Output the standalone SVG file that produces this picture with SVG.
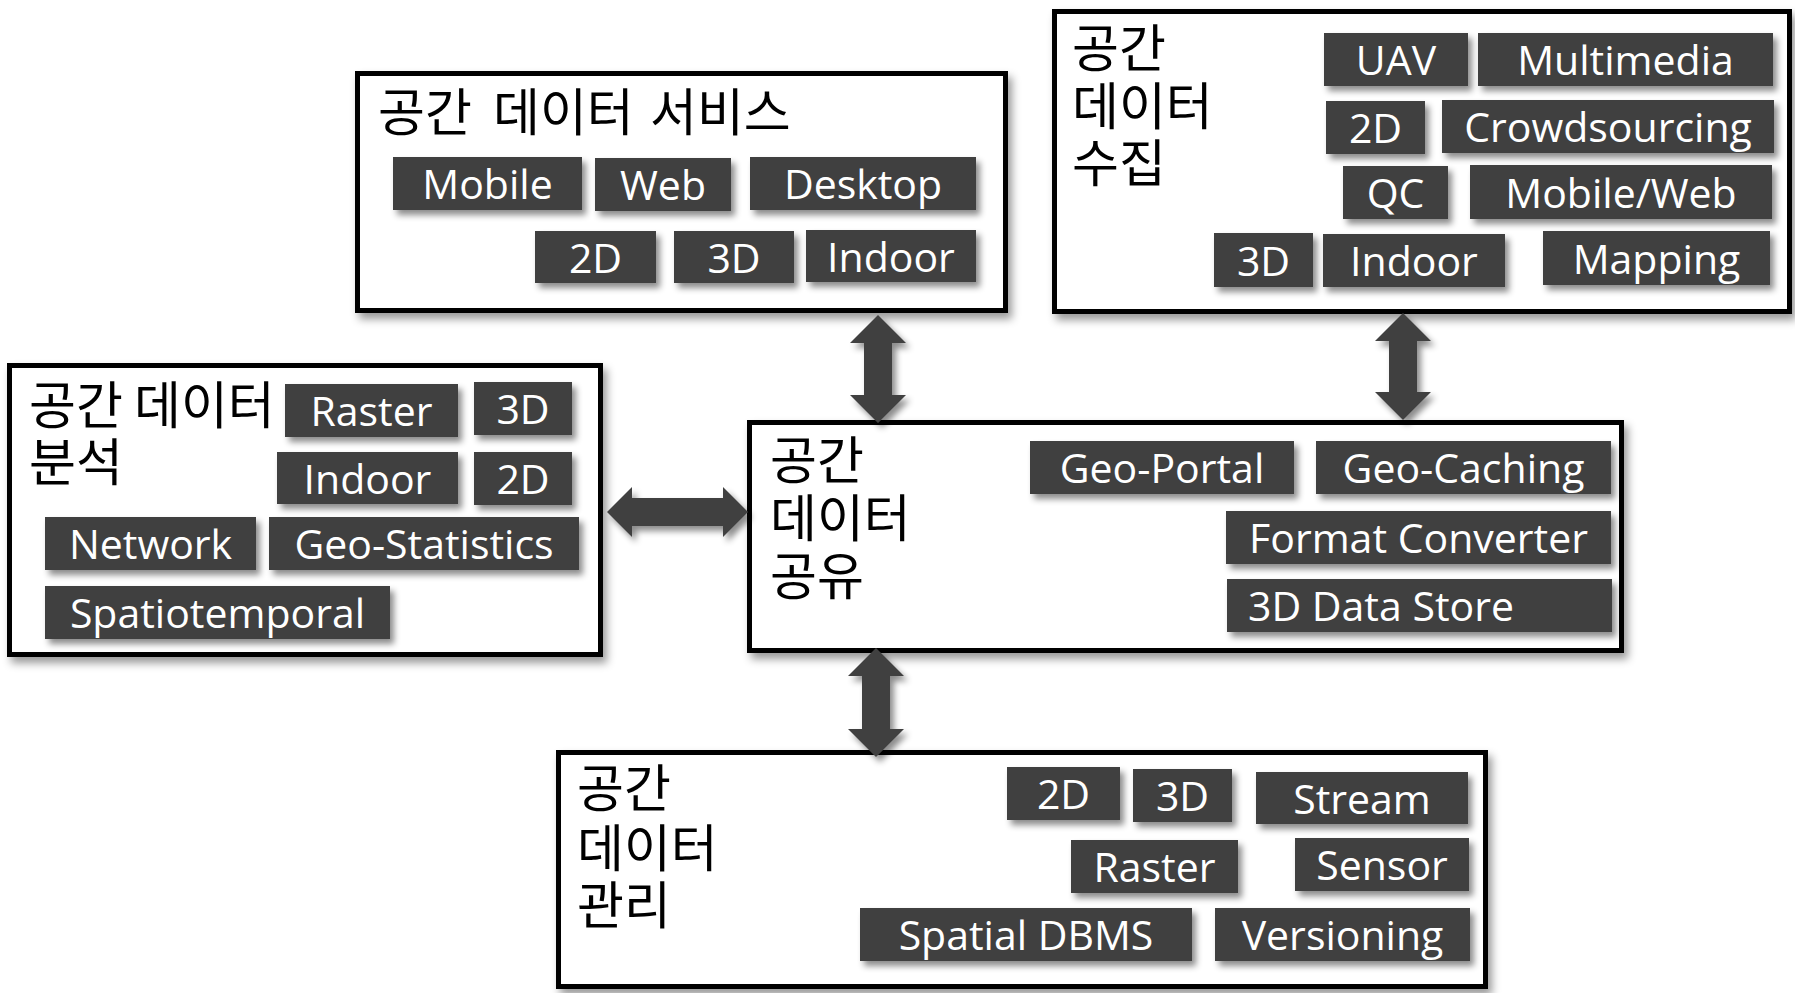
<svg xmlns="http://www.w3.org/2000/svg" width="1795" height="993" viewBox="0 0 1795 993">
<defs>
<filter id="sh" x="-10%" y="-10%" width="130%" height="140%">
<feDropShadow dx="4" dy="5" stdDeviation="3" flood-color="#000" flood-opacity="0.45"/>
</filter>
<filter id="shb" x="-5%" y="-5%" width="115%" height="120%">
<feDropShadow dx="4" dy="6" stdDeviation="4" flood-color="#000" flood-opacity="0.4"/>
</filter>
</defs>
<style>
.box{fill:#fff;stroke:#000;stroke-width:5;filter:url(#shb)}
.title{font-family:"Noto Sans CJK KR","Open Sans",sans-serif;font-size:51px;fill:#000}
.tag rect{fill:#404040;filter:url(#sh)}
.tag text{font-family:"Open Sans","Noto Sans CJK KR",sans-serif;font-size:41px;fill:#fff;text-anchor:middle}
.arrow{fill:#404040;filter:url(#sh)}
</style>

<g id="node-service">
<rect class="box" x="357.5" y="73.5" width="648" height="237"/>
<text class="title" x="378" y="131">공간</text>
<text class="title" x="493" y="131">데이터</text>
<text class="title" x="650" y="131">서비스</text>
<g class="tag"><rect x="393" y="157" width="189" height="53"/><text x="487.5" y="199">Mobile</text></g>
<g class="tag"><rect x="595" y="158" width="136" height="53"/><text x="663" y="200">Web</text></g>
<g class="tag"><rect x="750" y="157" width="226" height="53"/><text x="863" y="199">Desktop</text></g>
<g class="tag"><rect x="535" y="231" width="121" height="52"/><text x="595.5" y="273">2D</text></g>
<g class="tag"><rect x="674" y="231" width="120" height="52"/><text x="734" y="273">3D</text></g>
<g class="tag"><rect x="806" y="230" width="170" height="52"/><text x="891" y="272">Indoor</text></g>
</g>

<g id="node-collection">
<rect class="box" x="1054.5" y="11.5" width="735" height="300"/>
<text class="title" x="1072" y="67">공간</text>
<text class="title" x="1072" y="125">데이터</text>
<text class="title" x="1072" y="182">수집</text>
<g class="tag"><rect x="1324" y="33" width="144" height="53"/><text x="1396" y="75">UAV</text></g>
<g class="tag"><rect x="1478" y="33" width="295" height="53"/><text x="1625.5" y="75">Multimedia</text></g>
<g class="tag"><rect x="1326" y="101" width="99" height="53"/><text x="1375.5" y="143">2D</text></g>
<g class="tag"><rect x="1442" y="100" width="332" height="53"/><text x="1608" y="142">Crowdsourcing</text></g>
<g class="tag"><rect x="1343" y="166" width="105" height="53"/><text x="1395.5" y="208">QC</text></g>
<g class="tag"><rect x="1470" y="165" width="302" height="54"/><text x="1621" y="208">Mobile/Web</text></g>
<g class="tag"><rect x="1214" y="233" width="99" height="54"/><text x="1263.5" y="276">3D</text></g>
<g class="tag"><rect x="1323" y="234" width="182" height="53"/><text x="1414" y="276">Indoor</text></g>
<g class="tag"><rect x="1543" y="231" width="227" height="54"/><text x="1656.5" y="274">Mapping</text></g>
</g>

<g id="node-analysis">
<rect class="box" x="9.5" y="365.5" width="591" height="289"/>
<text class="title" x="29" y="424">공간</text>
<text class="title" x="134" y="424">데이터</text>
<text class="title" x="29" y="481">분석</text>
<g class="tag"><rect x="285" y="384" width="173" height="53"/><text x="371.5" y="426">Raster</text></g>
<g class="tag"><rect x="474" y="382" width="98" height="53"/><text x="523" y="424">3D</text></g>
<g class="tag"><rect x="277" y="452" width="181" height="52"/><text x="367.5" y="494">Indoor</text></g>
<g class="tag"><rect x="474" y="452" width="98" height="53"/><text x="523" y="494">2D</text></g>
<g class="tag"><rect x="45" y="517" width="211" height="53"/><text x="150.5" y="559">Network</text></g>
<g class="tag"><rect x="269" y="517" width="310" height="53"/><text x="424" y="559">Geo-Statistics</text></g>
<g class="tag"><rect x="45" y="586" width="345" height="53"/><text x="217.5" y="628">Spatiotemporal</text></g>
</g>

<g id="node-sharing">
<rect class="box" x="749.5" y="422.5" width="872" height="228"/>
<text class="title" x="770" y="479">공간</text>
<text class="title" x="770" y="537">데이터</text>
<text class="title" x="770" y="595">공유</text>
<g class="tag"><rect x="1030" y="441" width="264" height="53"/><text x="1162" y="483">Geo-Portal</text></g>
<g class="tag"><rect x="1316" y="441" width="295" height="53"/><text x="1463.5" y="483">Geo-Caching</text></g>
<g class="tag"><rect x="1226" y="511" width="385" height="53"/><text x="1418.5" y="553">Format Converter</text></g>
<g class="tag"><rect x="1227" y="579" width="385" height="53"/><text x="1248" y="621" style="text-anchor:start">3D Data Store</text></g>
</g>

<g id="node-management">
<rect class="box" x="558.5" y="752.5" width="927" height="234"/>
<text class="title" x="577" y="807">공간</text>
<text class="title" x="577" y="867">데이터</text>
<text class="title" x="577" y="924">관리</text>
<g class="tag"><rect x="1007" y="767" width="113" height="53"/><text x="1063.5" y="809">2D</text></g>
<g class="tag"><rect x="1133" y="769" width="99" height="53"/><text x="1182.5" y="811">3D</text></g>
<g class="tag"><rect x="1256" y="772" width="212" height="52"/><text x="1362" y="814">Stream</text></g>
<g class="tag"><rect x="1071" y="840" width="167" height="53"/><text x="1154.5" y="882">Raster</text></g>
<g class="tag"><rect x="1295" y="838" width="174" height="53"/><text x="1382" y="880">Sensor</text></g>
<g class="tag"><rect x="860" y="908" width="332" height="53"/><text x="1026" y="950">Spatial DBMS</text></g>
<g class="tag"><rect x="1215" y="908" width="255" height="53"/><text x="1342.5" y="950">Versioning</text></g>
</g>

<g id="connectors">
<polygon class="arrow" points="878,315 906,343 892,343 892,395 906,395 878,423 850,395 864,395 864,343 850,343"/>
<polygon class="arrow" points="1403,313 1431,341 1417,341 1417,392 1431,392 1403,420 1375,392 1389,392 1389,341 1375,341"/>
<polygon class="arrow" points="607,512 632,487 632,498 723,498 723,487 748,512 723,537 723,526 632,526 632,537"/>
<polygon class="arrow" points="876,648 904,676 890,676 890,729 904,729 876,757 848,729 862,729 862,676 848,676"/>
</g>
</svg>
